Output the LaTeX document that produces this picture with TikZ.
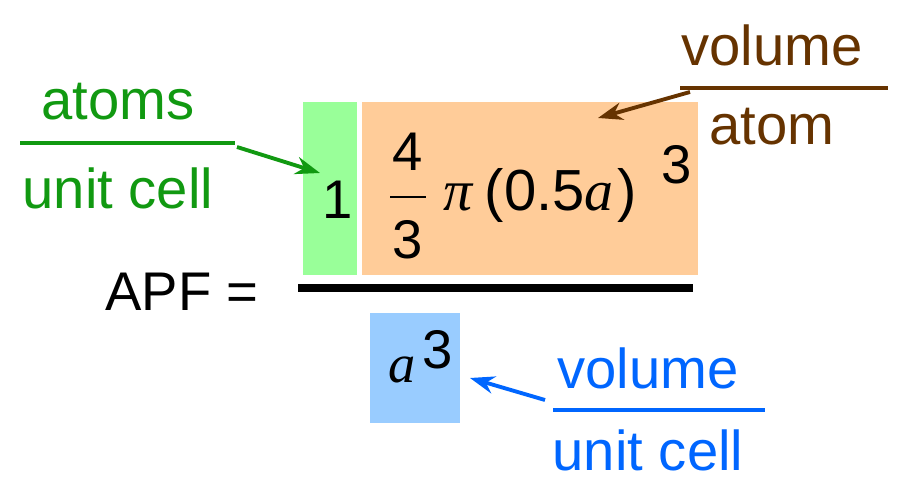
\documentclass[tikz,border=0pt]{standalone}
\usepackage{fontspec}
\setmainfont{Liberation Sans}
\newfontfamily\serifit{Liberation Serif}
\usetikzlibrary{arrows.meta}
\definecolor{boxgreen}{HTML}{99FF99}
\definecolor{boxorange}{HTML}{FFCC99}
\definecolor{boxblue}{HTML}{99CCFF}
\definecolor{labgreen}{HTML}{119911}
\definecolor{labbrown}{HTML}{663300}
\definecolor{labblue}{HTML}{0066FF}
\newcommand{\ita}{{\serifit\itshape a}}
\begin{document}
\begin{tikzpicture}[x=0.02cm,y=-0.02cm,
  txt/.style={inner sep=0pt,font=\fontsize{31}{34}\selectfont},
  lab/.style={inner sep=0pt,font=\fontsize{32}{35}\selectfont},
  arr/.style={-{Stealth[length=14pt,width=10pt]},line width=2.2pt}]
\useasboundingbox (0,0) rectangle (904,480);
% coloured boxes
\fill[boxgreen] (303,102) rectangle (357,275);
\fill[boxorange] (362,102) rectangle (698,275);
\fill[boxblue] (370,313) rectangle (460,423);
% the formula
\node[txt] (apf) at (182,292) {APF =};
\draw[line width=5pt] (298,288) -- (693,288);
\node[txt] (one) at (338,200) {1};
\node[txt] (four) at (408,152) {4};
\draw[line width=1.5pt] (390,197) -- (426,197);
\node[txt] (three) at (408,240) {3};
\node[txt,anchor=west,font=\fontsize{33}{36}\selectfont] (pi) at (443,195)
  {{\serifit\itshape π}\hspace{7pt}(0.5\ita\hspace{2pt})};
\node[txt] (cube) at (677,165) {3};
\node[txt] (a) at (402,370) {\ita};
\node[txt] (acube) at (438,350) {3};
% green label
\node[lab,text=labgreen] (atoms) at (118,102) {atoms};
\draw[labgreen,line width=2.5pt] (20,143) -- (235,143);
\node[lab,text=labgreen] (cellA) at (118,188) {unit cell};
\coordinate (gstart) at (237,147);
\coordinate (gend) at (320,173);
\draw[arr,labgreen] (gstart) -- (gend);
% brown label
\node[lab,text=labbrown] (vol) at (772,45) {volume};
\draw[labbrown,line width=2.5pt] (680,88) -- (888,88);
\node[lab,text=labbrown] (atom) at (772,127) {atom};
\coordinate (bstart) at (690,92);
\coordinate (bend) at (598,118);
\draw[arr,labbrown] (bstart) -- (bend);
% blue label
\node[lab,text=labblue] (volB) at (648,368) {volume};
\draw[labblue,line width=2.5pt] (553,410) -- (765,410);
\node[lab,text=labblue] (cellB) at (648,450) {unit cell};
\coordinate (cstart) at (545,400);
\coordinate (cend) at (470,378);
\draw[arr,labblue] (cstart) -- (cend);
\end{tikzpicture}
\end{document}
